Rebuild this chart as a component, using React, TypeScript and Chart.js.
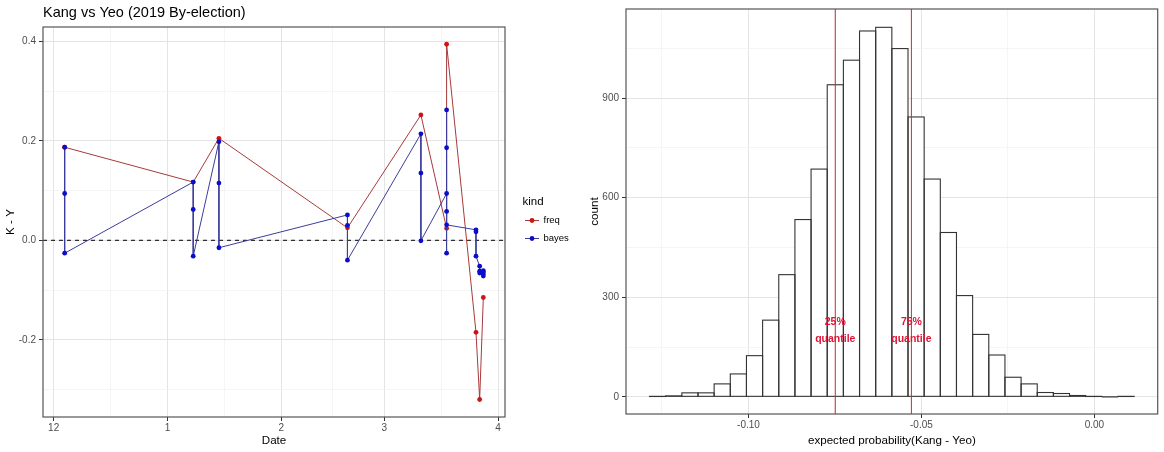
import React, { useEffect, useRef } from 'react';
import { Chart, registerables } from 'chart.js';

Chart.register(...registerables);

const FONT = '"Liberation Sans", Arial, sans-serif';

// ---------- Left panel data ----------
const leftTitle = 'Kang vs Yeo (2019 By-election)';
const monthTickDays = [0, 31, 62, 90, 121]; // days since Dec 1
const monthTickLabels = ['12', '1', '2', '3', '4'];
const monthMinorDays = [15.5, 46.5, 76, 105.5];
const diffMajorTicks = [-0.2, 0, 0.2, 0.4];
const diffMajorLabels = ['-0.2', '0.0', '0.2', '0.4'];
const diffMinorTicks = [-0.3, -0.1, 0.1, 0.3];
const zeroRef = 0;

const freqDays = [3, 38, 45, 80, 100, 107, 107, 115, 116, 117];
const freqValues = [0.187, 0.117, 0.205, 0.025, 0.252, 0.024, 0.394, -0.185, -0.32, -0.115];

const bayesDays = [
  3, 3, 3, 38, 38, 38, 45, 45, 45, 80, 80, 80, 100, 100, 100,
  107, 107, 107, 107, 107, 107, 115, 115, 115, 116, 116, 116, 117, 117, 117, 117,
];
const bayesValues = [
  0.187, 0.094, -0.026, 0.117, 0.062, -0.032, 0.198, 0.115, -0.015, 0.051, 0.03, -0.04,
  0.214, 0.135, -0.001, 0.094, 0.262, 0.186, 0.058, -0.026, 0.031, 0.021, 0.017, -0.032,
  -0.052, -0.062, -0.066, -0.061, -0.068, -0.072, -0.064,
];

// ---------- Right panel data ----------
const binStart = -0.1286;
const binWidth = 0.00467;
const binCounts = [
  1, 3, 12, 12, 39, 69, 124, 231, 368, 534, 686, 940, 1014, 1102, 1113,
  1049, 843, 656, 495, 305, 188, 126, 59, 39, 13, 10, 4, 1, 0, 1,
];
const quantileValues = [-0.0749, -0.0529];
const quantileLabels = [['25%', 'quantile'], ['75%', 'quantile']];
const quantileLabelCount = 200;
const probMajorTicks = [-0.1, -0.05, 0];
const probMajorLabels = ['-0.10', '-0.05', '0.00'];
const probMinorTicks = [-0.125, -0.075, -0.025];
const countMajorTicks = [0, 300, 600, 900];
const countMajorLabels = ['0', '300', '600', '900'];
const countMinorTicks = [150, 450, 750, 1050];

const near = (a: number, b: number) => Math.abs(a - b) < 1e-9;

function makeAxis(o: any) {
  const all = [...o.major, ...o.minor].sort((a: number, b: number) => a - b);
  const isMajor = (v: number) => o.major.some((m: number) => near(m, v));
  return {
    type: 'linear',
    min: o.min,
    max: o.max,
    offset: false,
    afterBuildTicks: (s: any) => {
      s.ticks = all.map((v: number) => ({ value: v }));
    },
    afterFit: (s: any) => {
      if (o.width != null) s.width = o.width;
      if (o.height != null) s.height = o.height;
    },
    grid: {
      offset: false,
      drawTicks: true,
      tickLength: 4,
      color: (c: any) => (c.tick && isMajor(c.tick.value) ? '#E4E4E4' : '#F0F0F0'),
      lineWidth: (c: any) => (c.tick && isMajor(c.tick.value) ? 1 : 0.7),
      tickColor: (c: any) => (c.tick && isMajor(c.tick.value) ? '#333333' : 'rgba(0,0,0,0)'),
      tickWidth: 1,
    },
    border: { display: false },
    ticks: {
      autoSkip: false,
      maxRotation: 0,
      minRotation: 0,
      padding: o.padding,
      color: '#4D4D4D',
      font: { family: FONT, size: 10 },
      callback: (v: number) => {
        const i = o.major.findIndex((m: number) => near(m, v));
        return i >= 0 ? o.labels[i] : '';
      },
    },
    title: {
      display: true,
      text: o.title,
      color: '#000000',
      font: { family: FONT, size: 11.6 },
      padding: { top: 4, bottom: 4 },
    },
  };
}

const FREQ_LINE = '#A63A3A';
const FREQ_POINT = '#D01414';
const BAYES_LINE = '#3C3C9C';
const BAYES_POINT = '#0C0CCC';

const leftPlugin = {
  id: 'leftDecor',
  beforeDatasetsDraw(chart: any) {
    const { ctx, chartArea } = chart;
    const y = chart.scales.y.getPixelForValue(zeroRef);
    ctx.save();
    ctx.strokeStyle = '#000';
    ctx.lineWidth = 1;
    ctx.setLineDash([4, 4]);
    ctx.beginPath();
    ctx.moveTo(chartArea.left, y);
    ctx.lineTo(chartArea.right, y);
    ctx.stroke();
    ctx.restore();
  },
  afterDraw(chart: any) {
    const { ctx, chartArea } = chart;
    ctx.save();
    ctx.strokeStyle = '#555555';
    ctx.lineWidth = 1.2;
    ctx.strokeRect(chartArea.left, chartArea.top, chartArea.right - chartArea.left, chartArea.bottom - chartArea.top);
    // title
    ctx.fillStyle = '#000';
    ctx.font = `14.5px ${FONT}`;
    ctx.textBaseline = 'middle';
    ctx.textAlign = 'left';
    ctx.fillText(leftTitle, chartArea.left, 13);
    // legend
    const lx = chartArea.right + 17.5;
    ctx.font = `11.5px ${FONT}`;
    ctx.fillText('kind', lx, 202);
    chart.data.datasets.forEach((ds: any, i: number) => {
      const y = 220.5 + i * 18;
      ctx.strokeStyle = ds.borderColor;
      ctx.lineWidth = 1;
      ctx.beginPath();
      ctx.moveTo(lx + 2.5, y);
      ctx.lineTo(lx + 16.5, y);
      ctx.stroke();
      ctx.fillStyle = ds.pointBackgroundColor;
      ctx.beginPath();
      ctx.arc(lx + 9.5, y, 2.4, 0, Math.PI * 2);
      ctx.fill();
      ctx.fillStyle = '#000';
      ctx.font = `9.5px ${FONT}`;
      ctx.fillText(ds.label, lx + 21, y);
    });
    ctx.restore();
  },
};

const rightPlugin = {
  id: 'rightDecor',
  afterDatasetsDraw(chart: any) {
    const { ctx, chartArea } = chart;
    const meta = chart.getDatasetMeta(0);
    ctx.save();
    ctx.strokeStyle = '#333333';
    ctx.lineWidth = 1.1;
    meta.data.forEach((el: any) => {
      const p = el.getProps(['x', 'y', 'base', 'width'], true);
      ctx.strokeRect(p.x - p.width / 2, p.y, p.width, p.base - p.y);
    });
    // quantile lines
    const xs = chart.scales.x;
    const ys = chart.scales.y;
    ctx.strokeStyle = '#D42A2A';
    ctx.lineWidth = 1;
    quantileValues.forEach((q) => {
      const x = xs.getPixelForValue(q);
      ctx.beginPath();
      ctx.moveTo(x, chartArea.top);
      ctx.lineTo(x, chartArea.bottom);
      ctx.stroke();
    });
    ctx.fillStyle = '#DC1436';
    ctx.font = `bold 10.5px ${FONT}`;
    ctx.textAlign = 'center';
    ctx.textBaseline = 'middle';
    quantileValues.forEach((q, i) => {
      const x = xs.getPixelForValue(q);
      const yc = ys.getPixelForValue(quantileLabelCount);
      const lines = quantileLabels[i];
      lines.forEach((t, j) => {
        ctx.fillText(t, x, yc + (j - (lines.length - 1) / 2) * 17);
      });
    });
    ctx.restore();
  },
  afterDraw(chart: any) {
    const { ctx, chartArea } = chart;
    ctx.save();
    ctx.strokeStyle = '#555555';
    ctx.lineWidth = 1.2;
    ctx.strokeRect(chartArea.left, chartArea.top, chartArea.right - chartArea.left, chartArea.bottom - chartArea.top);
    ctx.restore();
  },
};

function leftConfig(): any {
  return {
    type: 'line',
    data: {
      datasets: [
        {
          label: 'freq',
          data: freqDays.map((d, i) => ({ x: d, y: freqValues[i] })),
          borderColor: FREQ_LINE,
          borderWidth: 1,
          pointBackgroundColor: FREQ_POINT,
          pointBorderWidth: 0,
          pointRadius: 2.4,
          tension: 0,
          order: 1,
        },
        {
          label: 'bayes',
          data: bayesDays.map((d, i) => ({ x: d, y: bayesValues[i] })),
          borderColor: BAYES_LINE,
          borderWidth: 1,
          pointBackgroundColor: BAYES_POINT,
          pointBorderWidth: 0,
          pointRadius: 2.4,
          tension: 0,
          order: 0,
        },
      ],
    },
    options: {
      responsive: false,
      animation: false,
      devicePixelRatio: 1,
      events: [],
      layout: { padding: { left: 0, top: 27, right: 70, bottom: 0 } },
      plugins: { legend: { display: false }, tooltip: { enabled: false }, title: { display: false } },
      scales: {
        x: makeAxis({
          min: -2.9, max: 122.9, major: monthTickDays, labels: monthTickLabels, minor: monthMinorDays,
          title: 'Date', height: 35, padding: 1,
        }),
        y: makeAxis({
          min: -0.3552, max: 0.4287, major: diffMajorTicks, labels: diffMajorLabels, minor: diffMinorTicks,
          title: 'K - Y', width: 43, padding: 3,
        }),
      },
    },
    plugins: [leftPlugin],
  };
}

function rightConfig(): any {
  return {
    type: 'bar',
    data: {
      datasets: [
        {
          label: 'count',
          data: binCounts.map((c, i) => ({ x: binStart + (i + 0.5) * binWidth, y: c })),
          backgroundColor: '#FFFFFF',
          borderWidth: 0,
          barPercentage: 1,
          categoryPercentage: 1,
        },
      ],
    },
    options: {
      responsive: false,
      animation: false,
      devicePixelRatio: 1,
      events: [],
      layout: { padding: { left: 9, top: 6, right: 6.3, bottom: 0 } },
      plugins: { legend: { display: false }, tooltip: { enabled: false }, title: { display: false } },
      scales: {
        x: makeAxis({
          min: -0.1354, max: 0.0183, major: probMajorTicks, labels: probMajorLabels, minor: probMinorTicks,
          title: 'expected probability(Kang - Yeo)', height: 38, padding: 1,
        }),
        y: makeAxis({
          min: -51.7, max: 1168.2, major: countMajorTicks, labels: countMajorLabels, minor: countMinorTicks,
          title: 'count', width: 42, padding: 3,
        }),
      },
    },
    plugins: [rightPlugin],
  };
}

export default function App() {
  const leftRef = useRef<HTMLCanvasElement>(null);
  const rightRef = useRef<HTMLCanvasElement>(null);
  useEffect(() => {
    const c1 = new Chart(leftRef.current as HTMLCanvasElement, leftConfig());
    const c2 = new Chart(rightRef.current as HTMLCanvasElement, rightConfig());
    return () => {
      c1.destroy();
      c2.destroy();
    };
  }, []);
  return (
    <div style={{ position: 'absolute', left: 0, top: 0, width: 1164, height: 452, background: '#fff' }}>
      <canvas
        ref={leftRef}
        width={575}
        height={452}
        style={{ position: 'absolute', left: 0, top: 0, width: 575, height: 452 }}
      />
      <canvas
        ref={rightRef}
        width={589}
        height={452}
        style={{ position: 'absolute', left: 575, top: 0, width: 589, height: 452 }}
      />
    </div>
  );
}
